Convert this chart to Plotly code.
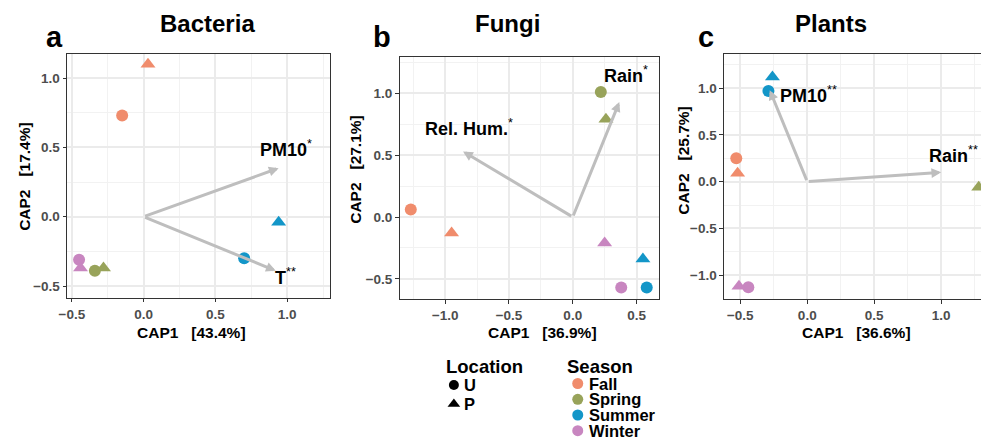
import plotly.graph_objects as go

FONT = "Liberation Sans"
W, H = 981, 441

seasons = ["Fall", "Spring", "Summer", "Winter"]
season_colors = {"Fall": "#F08C6C", "Spring": "#98A35A", "Summer": "#1396C8", "Winter": "#C886C0"}
locations = ["U", "P"]
loc_symbols = {"U": "circle", "P": "triangle-up"}

# Panel a: Bacteria
bact_season = ["Fall", "Fall", "Spring", "Spring", "Summer", "Summer", "Winter", "Winter"]
bact_loc = ["U", "P", "U", "P", "U", "P", "U", "P"]
bact_x = [-0.15, 0.03, -0.34, -0.28, 0.70, 0.94, -0.45, -0.44]
bact_y = [0.73, 1.10, -0.39, -0.37, -0.30, -0.04, -0.31, -0.37]
bact_vec = ["PM10", "T"]
bact_vec_sig = ["*", "**"]
bact_vx = [0.94, 0.92]
bact_vy = [0.35, -0.39]

# Panel b: Fungi
fung_season = ["Fall", "Fall", "Spring", "Spring", "Summer", "Summer", "Winter", "Winter"]
fung_loc = ["U", "P", "U", "P", "U", "P", "U", "P"]
fung_x = [-1.27, -0.95, 0.22, 0.26, 0.58, 0.55, 0.38, 0.25]
fung_y = [0.06, -0.13, 1.01, 0.79, -0.57, -0.34, -0.57, -0.21]
fung_vec = ["Rain", "Rel. Hum."]
fung_vec_sig = ["*", "*"]
fung_vx = [0.365, -0.86]
fung_vy = [0.93, 0.53]

# Panel c: Plants
plant_season = ["Fall", "Fall", "Spring", "Spring", "Summer", "Summer", "Winter", "Winter"]
plant_loc = ["U", "P", "U", "P", "U", "P", "U", "P"]
plant_x = [-0.53, -0.52, 1.45, 1.28, -0.29, -0.26, -0.44, -0.51]
plant_y = [0.25, 0.09, -0.10, -0.06, 0.97, 1.12, -1.13, -1.12]
plant_vec = ["PM10", "Rain"]
plant_vec_sig = ["**", "**"]
plant_vx = [-0.28, 1.0]
plant_vy = [0.98, 0.10]

titles = ["Bacteria", "Fungi", "Plants"]
letters = ["a", "b", "c"]
xlabels = ["CAP1   [43.4%]", "CAP1   [36.9%]", "CAP1   [36.6%]"]
ylabels = ["CAP2   [17.4%]", "CAP2   [27.1%]", "CAP2   [25.7%]"]

def px_x(p):
    return p / W

def px_y(p):
    return 1 - p / H

# layout geometry (pixels)
panels_px = [
    dict(x0=58.7, x1=324.3, y0=54.3, y1=297.7, xr=[-0.533, 1.30], yr=[-0.584, 1.171]),
    dict(x0=394.3, x1=656.0, y0=56.7, y1=299.0, xr=[-1.357, 0.676], yr=[-0.663, 1.296]),
    dict(x0=721.7, x1=981.0, y0=54.3, y1=299.0, xr=[-0.621, 1.297], yr=[-1.256, 1.364]),
]

data_sets = [
    (bact_season, bact_loc, bact_x, bact_y, bact_vec, bact_vec_sig, bact_vx, bact_vy),
    (fung_season, fung_loc, fung_x, fung_y, fung_vec, fung_vec_sig, fung_vx, fung_vy),
    (plant_season, plant_loc, plant_x, plant_y, plant_vec, plant_vec_sig, plant_vx, plant_vy),
]

# label positions for vector names (data units)
label_pos = [
    [(0.99, 0.49), (0.99, -0.43)],
    [(0.42, 1.15), (-0.81, 0.72)],
    [(0.01, 0.93), (1.09, 0.29)],
]

fig = go.Figure()
layout = dict(
    width=W, height=H, margin=dict(l=0, r=0, t=0, b=0),
    paper_bgcolor="white", plot_bgcolor="white", showlegend=False,
    font=dict(family=FONT, color="black"),
)
annotations = []

for i, (p, ds) in enumerate(zip(panels_px, data_sets)):
    n = "" if i == 0 else str(i + 1)
    xa, ya = "x" + n, "y" + n
    season, loc, xs, ys, vec, sig, vx, vy = ds
    for s in seasons:
        for l in locations:
            idx = [k for k in range(len(xs)) if season[k] == s and loc[k] == l]
            if not idx:
                continue
            fig.add_trace(go.Scatter(
                x=[xs[k] for k in idx], y=[ys[k] for k in idx], mode="markers",
                marker=dict(symbol=loc_symbols[l], size=12 if l == "U" else 13,
                            color=season_colors[s], line=dict(width=0)),
                xaxis=xa, yaxis=ya, hoverinfo="skip"))
    for k in range(len(vec)):
        annotations.append(dict(
            x=vx[k], y=vy[k], ax=0, ay=0, xref=xa, yref=ya, axref=xa, ayref=ya,
            text="", showarrow=True, arrowhead=2, arrowsize=0.65, arrowwidth=3,
            arrowcolor="#BEBEBE", standoff=0, startstandoff=0))
        lx, ly = label_pos[i][k]
        annotations.append(dict(
            x=lx, y=ly, xref=xa, yref=ya, showarrow=False, xanchor="center", yanchor="middle",
            text="<b>" + vec[k] + "</b><sup>" + sig[k] + "</sup>",
            font=dict(size=18, color="black", family=FONT)))
    axcommon = dict(
        showgrid=True, gridcolor="#EBEBEB", gridwidth=1.6, zeroline=False,
        showline=True, linecolor="#333333", linewidth=1.2,
        ticks="outside", ticklen=3.5, tickcolor="#333333", tickwidth=1.1,
        tickfont=dict(size=13.5, color="#4D4D4D", family=FONT, weight="bold"),
        dtick=0.5, tickformat=".1f",
        minor=dict(showgrid=True, gridcolor="#F2F2F2", gridwidth=0.9, dtick=0.25, ticks=""),
    )
    layout["xaxis" + n] = dict(axcommon, domain=[px_x(p["x0"]), px_x(p["x1"])],
                               range=p["xr"], anchor=ya, mirror=True)
    layout["yaxis" + n] = dict(axcommon, domain=[px_y(p["y1"]), px_y(p["y0"])],
                               range=p["yr"], anchor=xa, mirror=(i < 2))

# titles, letters, axis titles (pixel positions -> paper coords)
title_px = [(200, 24), (503, 24), (830, 24)]
letter_px = [(46, 37), (376, 37), (703, 37)]
xlab_px = [(184, 332), (538, 332), (855, 332)]
ylab_px = [(15, 176), (349, 169), (680, 160)]

def paper_text(xp, yp, text, size, angle=0):
    return dict(x=px_x(xp), y=px_y(yp), xref="paper", yref="paper", xanchor="center",
                yanchor="middle", text=text, showarrow=False, textangle=angle,
                font=dict(size=size, color="black", family=FONT))

for i in range(3):
    annotations.append(paper_text(*title_px[i], "<b>" + titles[i] + "</b>", 24))
    annotations.append(paper_text(*letter_px[i], "<b>" + letters[i] + "</b>", 29))
    annotations.append(paper_text(*xlab_px[i], "<b>" + xlabels[i].replace(" ", "&nbsp;") + "</b>", 15.5))
    annotations.append(paper_text(*ylab_px[i], "<b>" + ylabels[i].replace(" ", "&nbsp;") + "</b>", 15.5, -90))

# legend on a hidden pixel-space axis
LX0, LX1, LY0, LY1 = 430, 700, 345, 441
layout["xaxis4"] = dict(domain=[px_x(LX0), px_x(LX1)], range=[LX0, LX1], visible=False, anchor="y4")
layout["yaxis4"] = dict(domain=[px_y(LY1), px_y(LY0)], range=[LY1, LY0], visible=False, anchor="x4")

loc_leg_y = [385, 404]
for l, yy in zip(locations, loc_leg_y):
    fig.add_trace(go.Scatter(x=[449], y=[yy], mode="markers", xaxis="x4", yaxis="y4",
                             marker=dict(symbol=loc_symbols[l], size=10 if l == "U" else 11,
                                         color="black"), hoverinfo="skip"))
    annotations.append(dict(x=457, y=yy, xref="x4", yref="y4", xanchor="left", yanchor="middle",
                            showarrow=False, text="<b>" + l + "</b>",
                            font=dict(size=16.5, color="black", family=FONT)))
annotations.append(dict(x=439, y=366, xref="x4", yref="y4", xanchor="left", yanchor="middle",
                        showarrow=False, text="<b>Location</b>",
                        font=dict(size=18.5, color="black", family=FONT)))

season_leg_y = [383.5, 399.3, 415, 430.7]
for s, yy in zip(seasons, season_leg_y):
    fig.add_trace(go.Scatter(x=[574], y=[yy], mode="markers", xaxis="x4", yaxis="y4",
                             marker=dict(symbol="circle", size=11, color=season_colors[s]),
                             hoverinfo="skip"))
    annotations.append(dict(x=583, y=yy, xref="x4", yref="y4", xanchor="left", yanchor="middle",
                            showarrow=False, text="<b>" + s + "</b>",
                            font=dict(size=16.5, color="black", family=FONT)))
annotations.append(dict(x=561, y=366, xref="x4", yref="y4", xanchor="left", yanchor="middle",
                        showarrow=False, text="<b>Season</b>",
                        font=dict(size=18.5, color="black", family=FONT)))

layout["annotations"] = annotations
fig.update_layout(**layout)
fig.write_html("out.html", config={"displayModeBar": False},
               post_script="document.body.style.margin='0';document.body.style.padding='0';")
